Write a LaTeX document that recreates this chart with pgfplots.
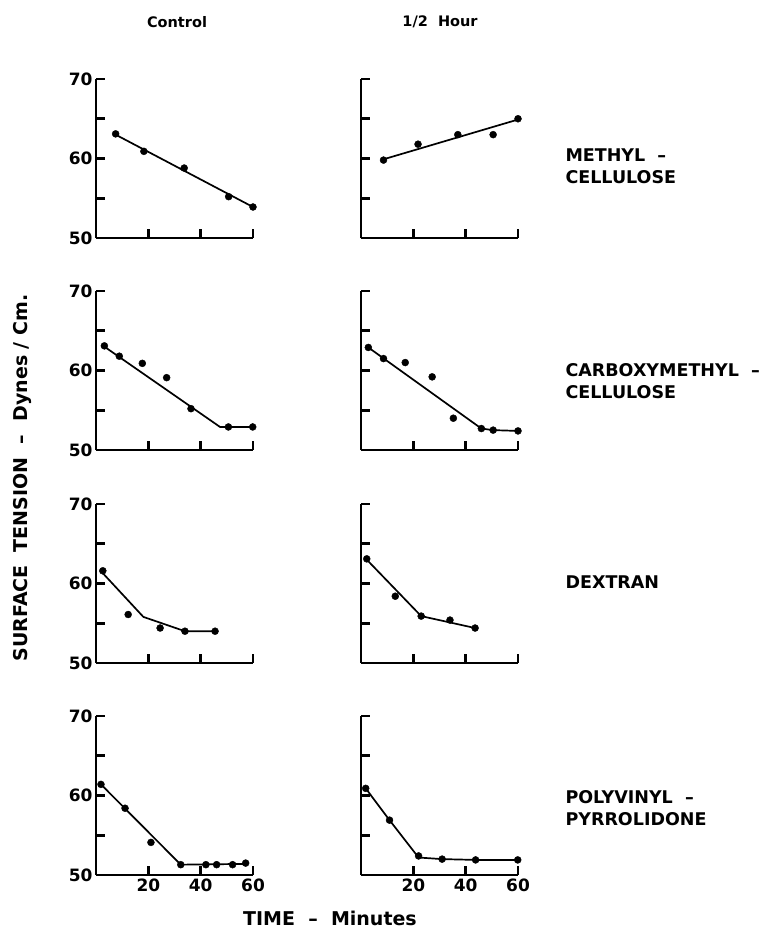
\documentclass[border=0pt]{standalone}
\usepackage{fontspec}
\setmainfont{DejaVu Sans}
\usepackage{pgfplots}
\pgfplotsset{compat=1.18}
\newcommand{\lab}{\bfseries\fontsize{17.5}{22}\selectfont}
\pgfplotsset{
  panel/.style={
    scale only axis, width=157pt, height=159pt,
    xmin=0, xmax=60, ymin=50, ymax=70,
    axis lines=left, axis line style={-, line width=2.6pt},
    xtick={20,40,60}, ytick={50,55,60,65,70}, yticklabels={50,,60,,70},
    tick align=inside, major tick length=9pt,
    tick style={line width=2.6pt, black},
    tick label style={font=\bfseries\fontsize{17}{17}\selectfont},
    /pgf/number format/assume math mode=true,
    clip=false,
  },
  fit/.style={black, line width=1.7pt, mark=none},
  pts/.style={only marks, mark=*, mark size=3.5pt, black},
  noxl/.style={xticklabels={}},
  noyl/.style={yticklabels={}},
}
\begin{document}
\begin{tikzpicture}[x=1pt,y=1pt]
\path[use as bounding box] (0,0) rectangle (764,-945);

% row 1: methyl cellulose
\begin{axis}[panel, noxl, at={(96pt,-238pt)}, anchor=south west]
\addplot[fit] coordinates {(7.5,63.0) (60,53.9)};
\addplot[pts] coordinates {(7.5,63.1) (18.3,60.9) (33.7,58.8) (50.7,55.2) (60,53.9)};
\end{axis}
\begin{axis}[panel, noxl, noyl, at={(361pt,-238pt)}, anchor=south west]
\addplot[fit] coordinates {(8.6,59.9) (60,64.9)};
\addplot[pts] coordinates {(8.6,59.8) (21.8,61.8) (37,63) (50.5,63) (60,65)};
\end{axis}

% row 2: carboxymethyl cellulose
\begin{axis}[panel, noxl, at={(96pt,-450pt)}, anchor=south west]
\addplot[fit] coordinates {(3.2,63.0) (47.4,52.9) (60,52.9)};
\addplot[pts] coordinates {(3.2,63.1) (8.9,61.8) (17.7,60.9) (27,59.1) (36.3,55.2) (50.6,52.9) (59.9,52.9)};
\end{axis}
\begin{axis}[panel, noxl, noyl, at={(361pt,-450pt)}, anchor=south west]
\addplot[fit] coordinates {(2.8,62.9) (46,52.7) (50.5,52.5) (60,52.4)};
\addplot[pts] coordinates {(2.8,62.9) (8.6,61.5) (16.9,61.0) (27.2,59.2) (35.3,54.0) (46,52.7) (50.5,52.5) (60,52.4)};
\end{axis}

% row 3: dextran
\begin{axis}[panel, noxl, at={(96pt,-663pt)}, anchor=south west]
\addplot[fit] coordinates {(2.6,61.3) (18.1,55.8) (34,54.0) (45.5,54.0)};
\addplot[pts] coordinates {(2.6,61.6) (12.3,56.1) (24.5,54.4) (34,54.0) (45.5,54.0)};
\end{axis}
\begin{axis}[panel, noxl, noyl, at={(361pt,-663pt)}, anchor=south west]
\addplot[fit] coordinates {(2.2,63.0) (23,55.9) (43.6,54.4)};
\addplot[pts] coordinates {(2.2,63.1) (13.1,58.4) (23,55.9) (34,55.4) (43.6,54.4)};
\end{axis}

% row 4: polyvinyl pyrrolidone
\begin{axis}[panel, at={(96pt,-875pt)}, anchor=south west]
\addplot[fit] coordinates {(1.9,61.4) (32.4,51.3) (57.2,51.4)};
\addplot[pts] coordinates {(1.9,61.4) (11.1,58.4) (21,54.1) (32.4,51.3) (42,51.3) (46.1,51.3) (52.2,51.3) (57.2,51.5)};
\end{axis}
\begin{axis}[panel, noyl, at={(361pt,-875pt)}, anchor=south west]
\addplot[fit] coordinates {(1.8,60.9) (10.9,56.9) (22,52.2) (31,52.0) (43.8,51.9) (59.9,51.9)};
\addplot[pts] coordinates {(1.8,60.9) (10.9,56.9) (22,52.4) (31,52.0) (43.8,51.9) (59.9,51.9)};
\end{axis}

% titles and labels
\node[font=\bfseries\fontsize{14.5}{16}\selectfont] at (177,-22) {Control};
\node[font=\bfseries\fontsize{14.5}{16}\selectfont] at (440,-22) {1/2\ \ Hour};
\node[font=\bfseries\fontsize{19}{22}\selectfont, rotate=90] at (22,-478) {SURFACE\ \ TENSION\ \ –\ \ Dynes / Cm.};
\node[font=\bfseries\fontsize{19}{22}\selectfont] at (330,-918) {TIME\ \ –\ \ Minutes};
\node[font=\lab, anchor=west, align=left] at (562,-166) {METHYL\ \ –\\CELLULOSE};
\node[font=\lab, anchor=west, align=left] at (562,-381) {CARBOXYMETHYL\ \ –\\CELLULOSE};
\node[font=\lab, anchor=west] at (562,-582) {DEXTRAN};
\node[font=\lab, anchor=west, align=left] at (562,-808) {POLYVINYL\ \ –\\PYRROLIDONE};
\end{tikzpicture}
\end{document}
